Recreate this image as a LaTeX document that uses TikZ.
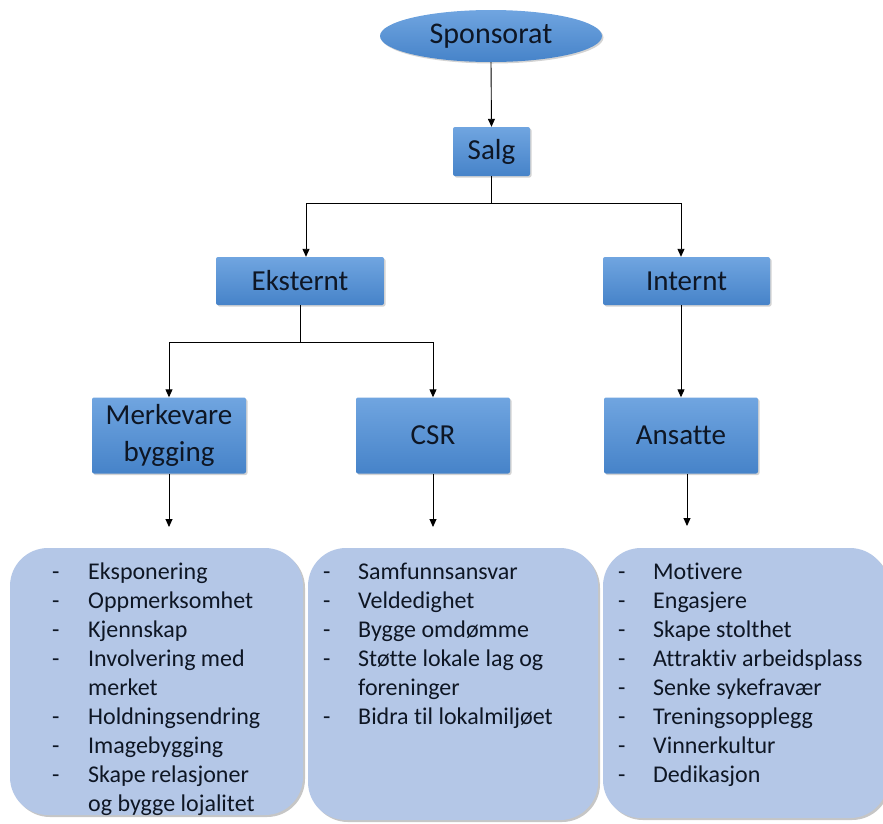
\documentclass[tikz,border=0pt]{standalone}
\usepackage{fontspec}
\setmainfont{Carlito}[Ligatures=NoCommon]
\usetikzlibrary{arrows.meta,shadows,shapes.geometric}
\definecolor{boxtop}{RGB}{112,165,224}
\definecolor{boxbot}{RGB}{70,131,201}
\definecolor{listfill}{RGB}{180,199,231}
\definecolor{txt}{RGB}{14,22,36}
\newcommand{\listfnt}{\fontsize{24}{29}\selectfont}
\begin{document}
\begin{tikzpicture}[x=1pt,y=-1pt,
  bluebox/.style={rectangle, rounded corners=2pt, top color=boxtop, bottom color=boxbot,
    draw=none, inner sep=0pt, text=txt, font=\fontsize{29}{37}\selectfont, align=center,
    drop shadow={shadow xshift=1.5pt, shadow yshift=-1.5pt, opacity=0.35}},
  blueell/.style={ellipse, top color=boxtop, bottom color=boxbot, draw=none, inner sep=0pt,
    text=txt, font=\fontsize{30}{34}\selectfont,
    drop shadow={shadow xshift=1.5pt, shadow yshift=-1.5pt, opacity=0.35}},
  listbox/.style={rectangle, rounded corners=38pt, fill=listfill, draw=none, inner sep=0pt,
    drop shadow={shadow xshift=2pt, shadow yshift=-2pt, opacity=0.45}},
  listtext/.style={anchor=north west, inner sep=0pt, text=txt, font=\listfnt},
  arr/.style={-{Triangle[length=8pt,width=7pt]}, line width=0.9pt, black},
  conn/.style={line width=0.9pt, black}]
\useasboundingbox (0,0) rectangle (883,823);

% nodes
\node[blueell, minimum width=222pt, minimum height=52pt] (spons) at (491,36) {Sponsorat};
\node[bluebox, minimum width=77pt, minimum height=49pt] (salg) at (491.5,151.5) {Salg};
\node[bluebox, minimum width=168pt, minimum height=48pt] (ekst) at (300,281) {Eksternt};
\node[bluebox, minimum width=167pt, minimum height=48pt] (intn) at (686.5,281) {Internt};
\node[bluebox, minimum width=154pt, minimum height=76pt] (merk) at (169,435.5) {Merkevare\\bygging};
\node[bluebox, minimum width=154pt, minimum height=76pt] (csr) at (433,435.5) {CSR};
\node[bluebox, minimum width=154pt, minimum height=76pt] (ans) at (681,435.5) {Ansatte};

% list boxes
\node[listbox, minimum width=293pt, minimum height=267pt] (l1) at (156.5,681.5) {};
\node[listbox, minimum width=290pt, minimum height=272pt] (l2) at (453,684) {};
\node[listbox, minimum width=285pt, minimum height=270pt] (l3) at (745.5,683) {};

\node[listtext] (t1) at (52,559) {\begin{tabular}{@{}p{36pt}@{}l@{}}
-& Eksponering\\
-& Oppmerksomhet\\
-& Kjennskap\\
-& Involvering med\\
 & merket\\
-& Holdningsendring\\
-& Imagebygging\\
-& Skape relasjoner\\
 & og bygge lojalitet
\end{tabular}};
\node[listtext] (t2) at (323,559) {\begin{tabular}{@{}p{35pt}@{}l@{}}
-& Samfunnsansvar\\
-& Veldedighet\\
-& Bygge omdømme\\
-& Støtte lokale lag og\\
 & foreninger\\
-& Bidra til lokalmiljøet
\end{tabular}};
\node[listtext] (t3) at (618,559) {\begin{tabular}{@{}p{35pt}@{}l@{}}
-& Motivere\\
-& Engasjere\\
-& Skape stolthet\\
-& Attraktiv arbeidsplass\\
-& Senke sykefravær\\
-& Treningsopplegg\\
-& Vinnerkultur\\
-& Dedikasjon
\end{tabular}};

% connector coordinates
\coordinate (jl) at (306,203);
\coordinate (jr) at (681,203);
\coordinate (kl) at (169,342);
\coordinate (kr) at (433,342);
\coordinate (e1) at (169,527);
\coordinate (e2) at (433,527);
\coordinate (e3) at (687,526);

% connectors
\draw[arr] (spons.south) -- (salg.north);
\draw[conn] (salg.south) -- (salg.south |- jl);
\draw[conn] (jl) -- (jr);
\draw[arr] (jl) -- (jl |- ekst.north);
\draw[arr] (jr) -- (jr |- intn.north);
\draw[conn] (ekst.south) -- (ekst.south |- kl);
\draw[conn] (kl) -- (kr);
\draw[arr] (kl) -- (merk.north);
\draw[arr] (kr) -- (csr.north);
\draw[arr] (jr |- intn.south) -- (ans.north);
\draw[arr] (merk.south) -- (e1);
\draw[arr] (csr.south) -- (e2);
\draw[arr] (e3 |- ans.south) -- (e3);
\end{tikzpicture}
\end{document}
